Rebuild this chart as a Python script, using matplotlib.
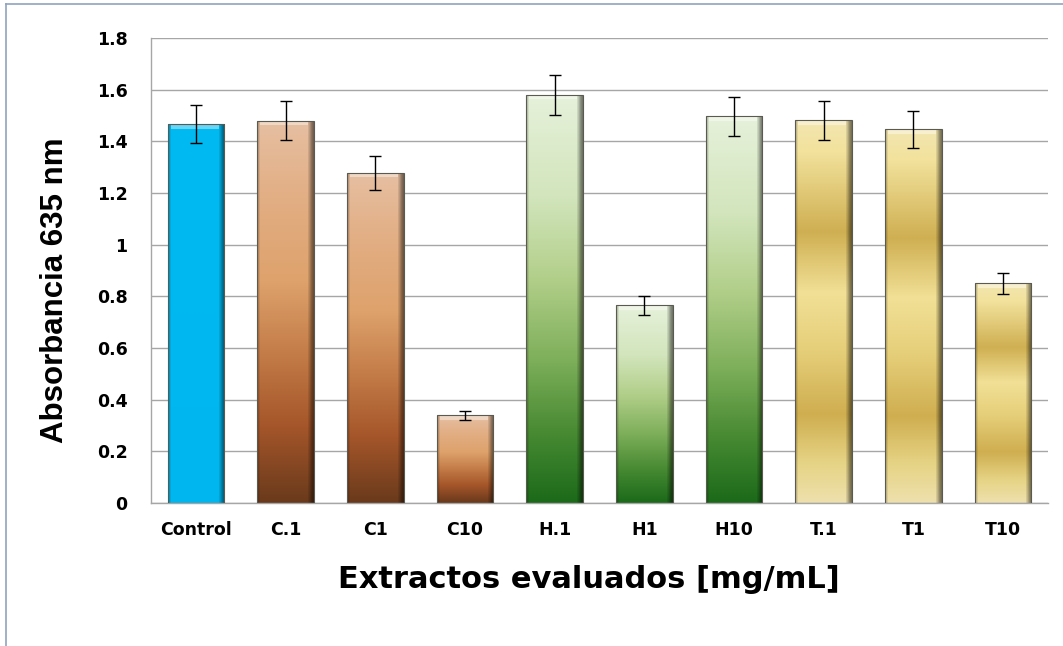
import numpy as np
import matplotlib
matplotlib.use("Agg")
import matplotlib.pyplot as plt
from matplotlib.colors import LinearSegmentedColormap, to_rgb
from matplotlib.lines import Line2D

categories = ["Control", "C.1", "C1", "C10", "H.1", "H1", "H10", "T.1", "T1", "T10"]
values = [1.467, 1.480, 1.278, 0.340, 1.580, 0.765, 1.497, 1.481, 1.446, 0.850]
errors = [0.075, 0.075, 0.065, 0.018, 0.078, 0.037, 0.075, 0.075, 0.072, 0.042]
groups = ["control", "brown", "brown", "brown", "green", "green", "green", "gold", "gold", "gold"]
yticks = [0, 0.2, 0.4, 0.6, 0.8, 1, 1.2, 1.4, 1.6, 1.8]
ytick_labels = ["0", "0.2", "0.4", "0.6", "0.8", "1", "1.2", "1.4", "1.6", "1.8"]

# gradient stops, position measured from bar top (0) to bar bottom (1)
gradients = {
    "control": [(0, "#00BAF2"), (1, "#00B6EE")],
    "brown": [(0, "#E6BFA2"), (0.2, "#E2AE84"), (0.42, "#DEA26C"), (0.62, "#C27A46"),
              (0.8, "#A5562A"), (1, "#6A3A1C")],
    "green": [(0, "#E6F1DA"), (0.25, "#D2E5BC"), (0.45, "#B2CF8A"), (0.65, "#7EAF5A"),
              (0.82, "#4A8C34"), (1, "#1C6A1A")],
    "gold": [(0, "#F2E6B0"), (0.08, "#F2E29C"), (0.29, "#CFAF52"), (0.45, "#F1E096"),
             (0.6, "#E6CF7A"), (0.77, "#CFAE50"), (0.9, "#E6D486"), (1, "#EEE0AC")],
}

W, H, DPI = 1063, 646, 100
fig = plt.figure(figsize=(W / DPI, H / DPI), dpi=DPI)
fig.patch.set_facecolor("white")

# figure frame (top and left edges visible)
fig.add_artist(Line2D([6 / W, 1.0], [1 - 4 / H, 1 - 4 / H], transform=fig.transFigure,
                      color="#8FA3BF", lw=1.2))
fig.add_artist(Line2D([6 / W, 6 / W], [0, 1 - 4 / H], transform=fig.transFigure,
                      color="#8FA3BF", lw=1.2))

ax = fig.add_axes([151 / W, 1 - 503 / H, (1048 - 151) / W, (503 - 38) / H])
ax.set_xlim(-0.5, len(categories) - 0.5)
ax.set_ylim(0, 1.8)
ax.set_yticks(yticks)
ax.set_yticklabels(ytick_labels)
ax.set_xticks(range(len(categories)))
ax.set_xticklabels(categories)
ax.yaxis.grid(True, color="#A6A6A6", lw=1.0)
ax.set_axisbelow(True)
for s in ["top", "right"]:
    ax.spines[s].set_visible(False)
for s in ["left", "bottom"]:
    ax.spines[s].set_color("#A6A6A6")
    ax.spines[s].set_linewidth(1.0)
ax.tick_params(axis="both", length=0)
ax.tick_params(axis="y", pad=17)
ax.tick_params(axis="x", pad=13)
for lab in ax.get_xticklabels() + ax.get_yticklabels():
    lab.set_fontfamily(["DejaVu Sans"])
    lab.set_fontweight("bold")
    lab.set_fontsize(12.5)

bars = ax.bar(range(len(categories)), values, width=0.63, color="none",
              edgecolor="#5A5A50", linewidth=0.8, zorder=3)

px_y = 1.8 / 465.0
for b, g in zip(bars, groups):
    x0, y0 = b.get_x(), b.get_y()
    bw, bh = b.get_width(), b.get_height()
    nrows = max(int(bh / px_y), 2)
    ncols = 57
    stops = gradients[g]
    cmap = LinearSegmentedColormap.from_list(g, [(p, to_rgb(c)) for p, c in stops])
    t = np.linspace(0, 1, nrows)
    col = cmap(t)[:, :3]  # rows top->bottom
    img = np.repeat(col[:, None, :], ncols, axis=1)
    # horizontal shading: darker right edge, slight left edge
    fac = np.ones(ncols)
    fac[0:2] = 0.82
    fac[2] = 0.92
    fac[-6:] = [0.9, 0.82, 0.72, 0.62, 0.55, 0.5]
    img = img * fac[None, :, None]
    # top bevel highlight
    nb = min(5, nrows // 3)
    for r in range(nb):
        img[r, 3:-6, :] = img[r, 3:-6, :] * 0.6 + 0.4
    img = np.clip(img, 0, 1)
    im = ax.imshow(img, extent=[x0, x0 + bw, y0, y0 + bh], aspect="auto",
                   origin="upper", zorder=2, interpolation="bilinear")
    im.set_clip_path(b)

ax.errorbar(range(len(categories)), values, yerr=errors, fmt="none", ecolor="black",
            elinewidth=1.0, capsize=4, capthick=1.0, zorder=4)

ax.set_xlim(-0.5, len(categories) - 0.5)
ax.set_ylim(0, 1.8)

fig.text(55 / W, 1 - 290 / H, "Absorbancia 635 nm", rotation=90, ha="center", va="center",
         fontsize=22.5, fontweight="bold", family=["Liberation Sans", "DejaVu Sans"])
fig.text(589 / W, 1 - 580 / H, "Extractos evaluados [mg/mL]", ha="center", va="center",
         fontsize=22, fontweight="bold", family=["DejaVu Sans"])

fig.savefig("out.png", dpi=DPI, facecolor="white")
